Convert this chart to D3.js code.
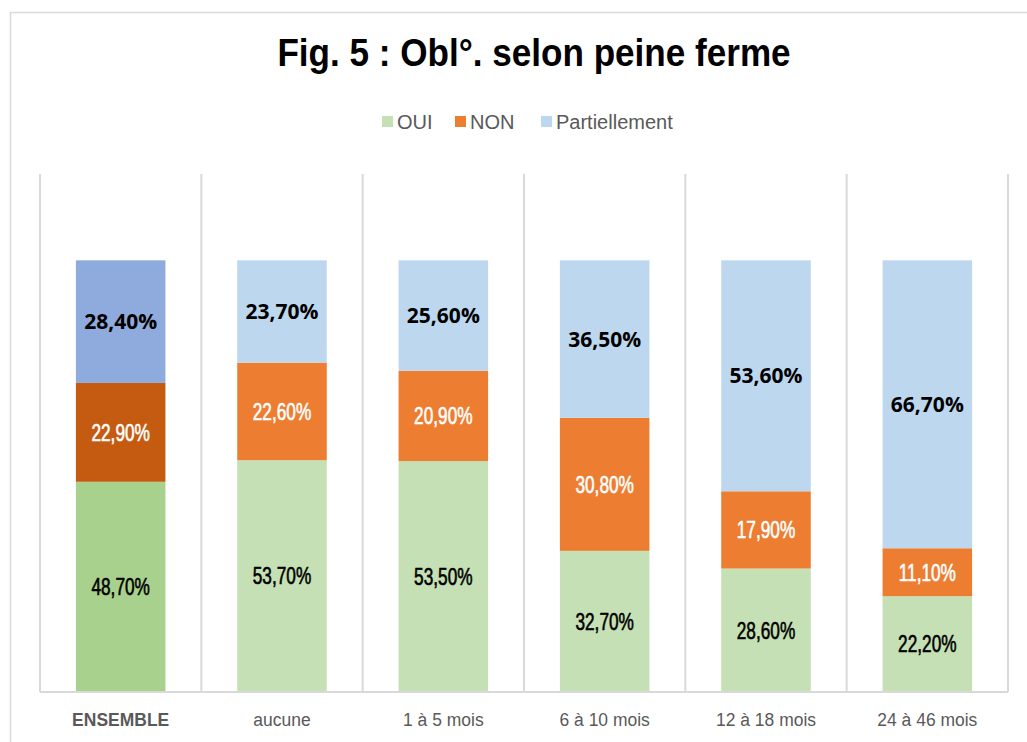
<!DOCTYPE html>
<html>
<head>
<meta charset="utf-8">
<script src="https://cdn.jsdelivr.net/npm/d3@7"></script>
<style>
  body { margin: 0; background: #fff; }
  svg { display: block; }
  .narrow { font-family: "Liberation Sans", Arial, sans-serif; }
</style>
</head>
<body>
<svg width="1027" height="742"></svg>
<script>
var categories = ["ENSEMBLE", "aucune", "1 à 5 mois", "6 à 10 mois", "12 à 18 mois", "24 à 46 mois"];
var series = ["OUI", "NON", "Partiellement"];
var oui = [48.7, 53.7, 53.5, 32.7, 28.6, 22.2];
var non = [22.9, 22.6, 20.9, 30.8, 17.9, 11.1];
var partiel = [28.4, 23.7, 25.6, 36.5, 53.6, 66.7];

var colors = {OUI: "#c5e0b4", NON: "#ed7d31", Partiellement: "#bdd7ee"};
var colorsEnsemble = {OUI: "#a9d18e", NON: "#c55a11", Partiellement: "#8faadc"};

var svg = d3.select("svg"),
    margin = {top: 174, right: 19, bottom: 50, left: 40},
    width = 1027 - margin.left - margin.right,
    height = 692 - margin.top;

var fmt = function(v) { return v.toFixed(2).replace(".", ",") + "%"; };

var data = categories.map(function(c, i) {
  return {cat: c, OUI: oui[i], NON: non[i], Partiellement: partiel[i]};
});

var layers = d3.stack().keys(series)(data);

var x = d3.scaleBand().domain(categories).range([0, width]);
var y = d3.scaleLinear().domain([0, 120]).range([height, 0]);
var bw = x.bandwidth() * 0.555;

// narrow text helper (no condensed font installed)
function squeeze(sel, sx, px, py) {
  sel.attr("x", 0).attr("y", 0)
     .attr("transform", function(d, i) {
       return "translate(" + px(d, i) + "," + py(d, i) + ") scale(" + sx + ",1)";
     });
}

// outer frame
svg.append("rect")
    .attr("x", 10.5).attr("y", 12.5)
    .attr("width", 1040).attr("height", 760)
    .attr("fill", "none").attr("stroke", "#d9d9d9").attr("stroke-width", 1.5);

svg.append("text")
    .attr("class", "narrow")
    .attr("text-anchor", "middle")
    .style("font-size", "39px").style("font-weight", "bold")
    .attr("fill", "#000")
    .text("Fig. 5 : Obl°. selon peine ferme")
    .call(squeeze, 0.9, function() { return 534; }, function() { return 66; });

// legend
var legX = [382, 455, 541];
var leg = svg.append("g").selectAll("g").data(series).enter().append("g")
    .attr("transform", function(d, i) { return "translate(" + legX[i] + ",122)"; });
leg.append("rect").attr("x", 0).attr("y", -6).attr("width", 11).attr("height", 11)
    .attr("fill", function(d) { return colors[d]; });
leg.append("text").attr("class", "narrow")
    .attr("x", 15).attr("y", 7)
    .style("font-size", "20px").attr("fill", "#595959")
    .text(function(d) { return d; });

var g = svg.append("g")
    .attr("transform", "translate(" + margin.left + "," + margin.top + ")");

// vertical separators
var bounds = categories.map(function(c) { return x(c); }).concat([width]);
g.selectAll(".sep").data(bounds).enter().append("line")
    .attr("x1", function(d) { return d; }).attr("x2", function(d) { return d; })
    .attr("y1", 0).attr("y2", height)
    .attr("stroke", "#d9d9d9").attr("stroke-width", 2);

var layer = g.selectAll(".layer").data(layers).enter().append("g");

layer.selectAll("rect").data(function(d) { return d.map(function(p) { p.key = d.key; return p; }); })
  .enter().append("rect")
    .attr("x", function(d) { return x(d.data.cat) + (x.bandwidth() - bw) / 2; })
    .attr("y", function(d) { return y(Math.min(d[1], 100)); })
    .attr("width", bw)
    .attr("height", function(d) { return y(d[0]) - y(Math.min(d[1], 100)); })
    .attr("fill", function(d) { return d.data.cat === "ENSEMBLE" ? colorsEnsemble[d.key] : colors[d.key]; });

var labX = function(d) { return x(d.data.cat) + x.bandwidth() / 2; };
var labY = function(d) { return (y(d[0]) + y(Math.min(d[1], 100))) / 2; };

// Partiellement labels (wider bold font)
layer.filter(function(d) { return d.key === "Partiellement"; })
  .selectAll("text").data(function(d) { return d; })
  .enter().append("text")
    .attr("x", labX).attr("y", labY)
    .attr("dy", "0.36em")
    .attr("text-anchor", "middle")
    .style("font-family", "'Open Sans', sans-serif")
    .style("font-weight", "bold")
    .style("font-size", "21px")
    .attr("fill", "#000")
    .text(function(d) { return fmt(d.data[d.key]); });

// OUI / NON labels (narrow)
layer.filter(function(d) { return d.key !== "Partiellement"; })
  .selectAll("text").data(function(d) { return d; })
  .enter().append("text")
    .attr("class", "narrow")
    .attr("dy", "0.36em")
    .attr("text-anchor", "middle")
    .style("font-size", "23px")
    .style("stroke-width", 0.6)
    .style("stroke", function(d) { return d.key === "NON" ? "#fff" : "#000"; })
    .attr("fill", function(d) { return d.key === "NON" ? "#fff" : "#000"; })
    .text(function(d) { return fmt(d.data[d.key]); })
    .call(squeeze, 0.75, labX, labY);

// baseline
g.append("line").attr("x1", 0).attr("x2", width).attr("y1", height).attr("y2", height)
    .attr("stroke", "#d9d9d9").attr("stroke-width", 2);

// category labels
g.selectAll(".cat").data(categories).enter().append("text")
    .attr("class", "narrow")
    .attr("text-anchor", "middle")
    .style("font-size", "19px")
    .style("font-weight", function(d) { return d === "ENSEMBLE" ? "bold" : "normal"; })
    .attr("fill", "#595959")
    .text(function(d) { return d; })
    .call(squeeze, 0.92, function(d) { return x(d) + x.bandwidth() / 2; }, function() { return height + 34; });
</script>
</body>
</html>
